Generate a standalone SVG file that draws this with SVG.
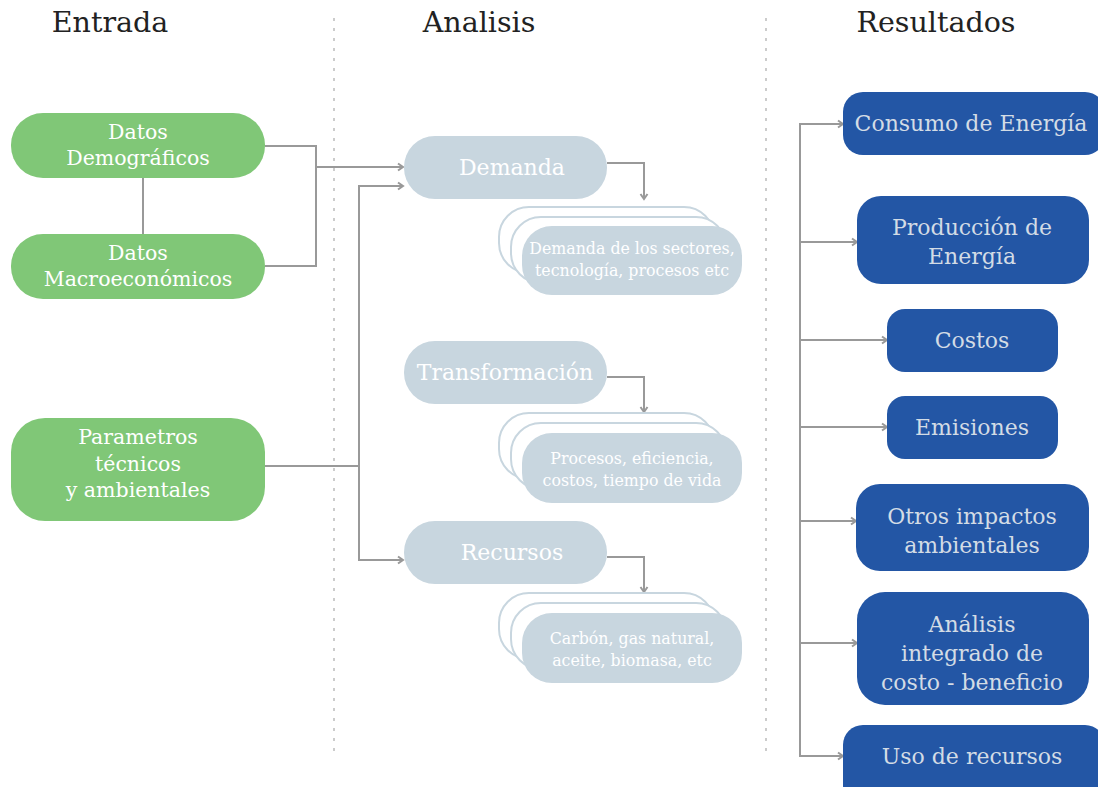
<svg xmlns="http://www.w3.org/2000/svg" width="1098" height="787" viewBox="0 0 1098 787">
<defs>
<marker id="arr" markerWidth="10" markerHeight="10" refX="8" refY="5" orient="auto" markerUnits="userSpaceOnUse">
<path d="M3,1.5 L8,5 L3,8.5" fill="none" stroke="#999" stroke-width="2"/>
</marker>
<style>
.hd{font-family:"DejaVu Serif","Liberation Serif",serif;font-size:28.5px;fill:#222;text-anchor:middle}
.g{fill:#80C777}
.gt{font-family:"DejaVu Serif","Liberation Serif",serif;font-size:20.5px;fill:#fff;text-anchor:middle}
.l{fill:#C8D6DF}
.lt{font-family:"DejaVu Serif","Liberation Serif",serif;font-size:22px;fill:#fff;text-anchor:middle}
.st{font-family:"DejaVu Serif","Liberation Serif",serif;font-size:15.8px;fill:#fff;text-anchor:middle}
.ol{fill:#fff;stroke:#C8D6DF;stroke-width:2}
.b{fill:#2356A5}
.bt{font-family:"DejaVu Serif","Liberation Serif",serif;font-size:22px;fill:#D3DCE5;text-anchor:middle}
.c{fill:none;stroke:#999;stroke-width:2}
.d{stroke:#ccc;stroke-width:2;stroke-dasharray:3 7}
</style>
</defs>
<rect width="1098" height="787" fill="#fff"/>
<g id="headers">
<text class="hd" x="110" y="32">Entrada</text>
<text class="hd" x="479" y="32">Analisis</text>
<text class="hd" x="936" y="32">Resultados</text>
<line class="d" x1="334" y1="18" x2="334" y2="757"/>
<line class="d" x1="766" y1="18" x2="766" y2="757"/>
</g>
<g id="connectors">
<line class="c" x1="143" y1="178" x2="143" y2="234"/>
<polyline class="c" points="265,146 316,146 316,266 265,266"/>
<line class="c" x1="316" y1="167" x2="403" y2="167" marker-end="url(#arr)"/>
<line class="c" x1="265" y1="466" x2="359" y2="466"/>
<polyline class="c" points="403,186 359,186 359,560 403,560" marker-end="url(#arr)"/>
<line class="c" x1="359" y1="186" x2="403" y2="186" marker-end="url(#arr)"/>
<polyline class="c" points="607,163 644,163 644,199" marker-end="url(#arr)"/>
<polyline class="c" points="607,377 644,377 644,412" marker-end="url(#arr)"/>
<polyline class="c" points="607,557 644,557 644,592" marker-end="url(#arr)"/>
<line class="c" x1="800" y1="124" x2="800" y2="756"/>
<line class="c" x1="799" y1="124" x2="843" y2="124" marker-end="url(#arr)"/>
<line class="c" x1="800" y1="242" x2="857" y2="242" marker-end="url(#arr)"/>
<line class="c" x1="800" y1="340" x2="887" y2="340" marker-end="url(#arr)"/>
<line class="c" x1="800" y1="427" x2="887" y2="427" marker-end="url(#arr)"/>
<line class="c" x1="800" y1="521" x2="856" y2="521" marker-end="url(#arr)"/>
<line class="c" x1="800" y1="643" x2="857" y2="643" marker-end="url(#arr)"/>
<line class="c" x1="799" y1="756" x2="843" y2="756" marker-end="url(#arr)"/>
</g>
<g id="n-demograficos">
<rect class="g" x="11" y="113" width="254" height="65" rx="32"/>
<text class="gt" x="138" y="139">Datos</text>
<text class="gt" x="138" y="165">Demográficos</text>
</g>
<g id="n-macro">
<rect class="g" x="11" y="234" width="254" height="65" rx="32"/>
<text class="gt" x="138" y="260">Datos</text>
<text class="gt" x="138" y="286">Macroeconómicos</text>
</g>
<g id="n-parametros">
<rect class="g" x="11" y="418" width="254" height="103" rx="34"/>
<text class="gt" x="138" y="444">Parametros</text>
<text class="gt" x="138" y="471">técnicos</text>
<text class="gt" x="138" y="497">y ambientales</text>
</g>
<g id="n-demanda">
<rect class="l" x="404" y="136" width="203" height="63" rx="31"/>
<text class="lt" x="512" y="175">Demanda</text>
</g>
<g id="n-demanda-detalle">
<rect class="ol" x="499" y="207" width="215" height="66" rx="30"/>
<rect class="ol" x="511" y="217" width="215" height="66" rx="30"/>
<rect class="l" x="522" y="226" width="220" height="69" rx="30"/>
<text class="st" x="632" y="254">Demanda de los sectores,</text>
<text class="st" x="632" y="276">tecnología, procesos etc</text>
</g>
<g id="n-transformacion">
<rect class="l" x="404" y="341" width="203" height="63" rx="31"/>
<text class="lt" x="505" y="380">Transformación</text>
</g>
<g id="n-transformacion-detalle">
<rect class="ol" x="499" y="413" width="215" height="66" rx="30"/>
<rect class="ol" x="511" y="423" width="215" height="66" rx="30"/>
<rect class="l" x="522" y="433" width="220" height="70" rx="30"/>
<text class="st" x="632" y="464">Procesos, eficiencia,</text>
<text class="st" x="632" y="486">costos, tiempo de vida</text>
</g>
<g id="n-recursos">
<rect class="l" x="404" y="521" width="203" height="63" rx="31"/>
<text class="lt" x="512" y="560">Recursos</text>
</g>
<g id="n-recursos-detalle">
<rect class="ol" x="499" y="593" width="215" height="66" rx="30"/>
<rect class="ol" x="511" y="603" width="215" height="66" rx="30"/>
<rect class="l" x="522" y="613" width="220" height="70" rx="30"/>
<text class="st" x="632" y="644">Carbón, gas natural,</text>
<text class="st" x="632" y="666">aceite, biomasa, etc</text>
</g>
<g id="r-consumo">
<rect class="b" x="843" y="92" width="262" height="63" rx="20"/>
<text class="bt" x="971" y="131">Consumo de Energía</text>
</g>
<g id="r-produccion">
<rect class="b" x="857" y="196" width="232" height="88" rx="24"/>
<text class="bt" x="972" y="235">Producción de</text>
<text class="bt" x="972" y="264">Energía</text>
</g>
<g id="r-costos">
<rect class="b" x="887" y="309" width="171" height="63" rx="18"/>
<text class="bt" x="972" y="348">Costos</text>
</g>
<g id="r-emisiones">
<rect class="b" x="887" y="396" width="171" height="63" rx="18"/>
<text class="bt" x="972" y="435">Emisiones</text>
</g>
<g id="r-otros">
<rect class="b" x="856" y="484" width="233" height="87" rx="24"/>
<text class="bt" x="972" y="524">Otros impactos</text>
<text class="bt" x="972" y="553">ambientales</text>
</g>
<g id="r-analisis">
<rect class="b" x="857" y="592" width="232" height="113" rx="28"/>
<text class="bt" x="972" y="632">Análisis</text>
<text class="bt" x="972" y="661">integrado de</text>
<text class="bt" x="972" y="690">costo - beneficio</text>
</g>
<g id="r-uso">
<rect class="b" x="843" y="725" width="262" height="80" rx="20"/>
<text class="bt" x="972" y="764">Uso de recursos</text>
</g>
</svg>
